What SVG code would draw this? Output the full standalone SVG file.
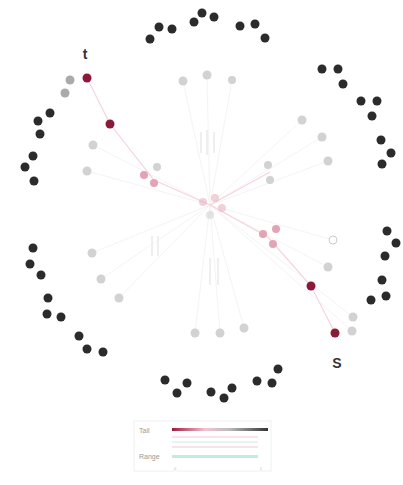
<svg xmlns="http://www.w3.org/2000/svg" width="403" height="485" viewBox="0 0 403 485">
<style>
.d{fill:#2b2b2b}
.g{fill:#d2d2d2}
.r{fill:#8b1a3a}
.p{fill:#e3a3b5}
.e{stroke:#f7d3de;stroke-width:1.2;fill:none}
.f{stroke:#f4f4f4;stroke-width:1;fill:none}
.lbl{font-family:"Liberation Sans",Arial,sans-serif}
</style>
<rect width="403" height="485" fill="#ffffff"/>
<g id="connectors">
<path class="f" d="M210 205L183 81M210 205L207 75M210 205L232 80M210 205L302 120M210 205L322 137M210 205L328 161M210 205L93 145M210 205L87 171M210 205L92 253M210 205L101 279M210 205L119 298M210 205L195 333M210 205L220 333M210 205L244 328M210 205L333 240M210 205L328 267M210 205L353 317M210 205L352 331"/>
<path stroke="#eaeaea" stroke-width="1.5" fill="none" d="M201 132L201 153M207 130L207 155M214 132L214 153M210 258L210 285M218 258L218 285M152 236L152 256M158 236L158 256"/>
<path class="e" d="M210 205L154 180L110 124L87 78M210 205L268 237L311 286L335 333M210 205L270 172"/>
</g>
<g id="center"><circle class="p" cx="203" cy="202" r="4" opacity="0.5"/><circle class="p" cx="215" cy="198" r="4" opacity="0.5"/><circle class="p" cx="222" cy="208" r="4" opacity="0.5"/><circle class="g" cx="210" cy="215" r="4" opacity="0.6"/></g>
<g id="red-nodes">
<circle class="r" cx="87" cy="78" r="4.5"/><circle class="r" cx="110" cy="124" r="4.5"/><circle class="r" cx="311" cy="286" r="4.5"/><circle class="r" cx="335" cy="333" r="4.5"/>
<circle class="p" cx="144" cy="175" r="4"/><circle class="p" cx="154" cy="183" r="4"/><circle class="g" cx="157" cy="167" r="4"/>
<circle class="p" cx="263" cy="234" r="4"/><circle class="p" cx="276" cy="229" r="4"/><circle class="p" cx="273" cy="244" r="4"/>
</g>
<g id="gray-nodes">
<circle fill="#aaa" cx="70" cy="80" r="4.5"/><circle fill="#aaa" cx="65" cy="93" r="4.5"/>
<circle class="g" cx="183" cy="81" r="4.5"/><circle class="g" cx="207" cy="75" r="4.5"/><circle class="g" cx="232" cy="80" r="4"/>
<circle class="g" cx="93" cy="145" r="4.5"/><circle class="g" cx="87" cy="171" r="4.5"/>
<circle class="g" cx="302" cy="120" r="4.5"/><circle class="g" cx="322" cy="137" r="4.5"/><circle class="g" cx="328" cy="161" r="4.5"/>
<circle class="g" cx="268" cy="165" r="4"/><circle class="g" cx="270" cy="180" r="4"/>
<circle class="g" cx="92" cy="253" r="4.5"/><circle class="g" cx="101" cy="279" r="4.5"/><circle class="g" cx="119" cy="298" r="4.5"/>
<circle class="g" cx="195" cy="333" r="4.5"/><circle class="g" cx="220" cy="333" r="4.5"/><circle class="g" cx="244" cy="328" r="4.5"/>
<circle cx="333" cy="240" r="4" fill="#fff" stroke="#ccc"/><circle class="g" cx="328" cy="267" r="4.5"/>
<circle class="g" cx="353" cy="317" r="4.5"/><circle class="g" cx="352" cy="331" r="4.5"/>
</g>
<g id="dark-nodes">
<circle class="d" cx="150" cy="39" r="4.5"/><circle class="d" cx="159" cy="27" r="4.5"/><circle class="d" cx="172" cy="29" r="4.5"/><circle class="d" cx="194" cy="22" r="4.5"/><circle class="d" cx="202" cy="13" r="4.5"/><circle class="d" cx="214" cy="17" r="4.5"/><circle class="d" cx="240" cy="26" r="4.5"/><circle class="d" cx="255" cy="24" r="4.5"/><circle class="d" cx="265" cy="38" r="4.5"/>
<circle class="d" cx="322" cy="69" r="4.5"/><circle class="d" cx="338" cy="69" r="4.5"/><circle class="d" cx="343" cy="84" r="4.5"/><circle class="d" cx="361" cy="101" r="4.5"/><circle class="d" cx="377" cy="101" r="4.5"/><circle class="d" cx="372" cy="116" r="4.5"/><circle class="d" cx="381" cy="140" r="4.5"/><circle class="d" cx="391" cy="153" r="4.5"/><circle class="d" cx="382" cy="164" r="4.5"/>
<circle class="d" cx="50" cy="113" r="4.5"/><circle class="d" cx="38" cy="121" r="4.5"/><circle class="d" cx="40" cy="134" r="4.5"/><circle class="d" cx="33" cy="156" r="4.5"/><circle class="d" cx="25" cy="167" r="4.5"/><circle class="d" cx="34" cy="181" r="4.5"/>
<circle class="d" cx="33" cy="248" r="4.5"/><circle class="d" cx="30" cy="264" r="4.5"/><circle class="d" cx="41" cy="275" r="4.5"/><circle class="d" cx="48" cy="298" r="4.5"/><circle class="d" cx="47" cy="314" r="4.5"/><circle class="d" cx="61" cy="317" r="4.5"/><circle class="d" cx="79" cy="336" r="4.5"/><circle class="d" cx="87" cy="349" r="4.5"/><circle class="d" cx="103" cy="352" r="4.5"/>
<circle class="d" cx="165" cy="380" r="4.5"/><circle class="d" cx="187" cy="383" r="4.5"/><circle class="d" cx="177" cy="393" r="4.5"/><circle class="d" cx="211" cy="392" r="4.5"/><circle class="d" cx="224" cy="398" r="4.5"/><circle class="d" cx="232" cy="388" r="4.5"/><circle class="d" cx="257" cy="381" r="4.5"/><circle class="d" cx="272" cy="383" r="4.5"/><circle class="d" cx="278" cy="369" r="4.5"/>
<circle class="d" cx="387" cy="231" r="4.5"/><circle class="d" cx="396" cy="243" r="4.5"/><circle class="d" cx="385" cy="256" r="4.5"/><circle class="d" cx="382" cy="280" r="4.5"/><circle class="d" cx="386" cy="296" r="4.5"/><circle class="d" cx="371" cy="300" r="4.5"/>
</g>
<g id="labels">
<text class="lbl" x="85" y="59" font-size="14" font-weight="bold" text-anchor="middle" fill="#333">t</text>
<text class="lbl" x="337" y="368" font-size="14" font-weight="bold" text-anchor="middle" fill="#333">S</text>
</g>
<g id="legend">
<defs><linearGradient id="tg" x1="0" x2="1"><stop offset="0" stop-color="#a3193f"/><stop offset="0.35" stop-color="#f3c3d1"/><stop offset="0.6" stop-color="#bbbbbb"/><stop offset="1" stop-color="#333"/></linearGradient></defs>
<rect x="134" y="421" width="137" height="50" fill="#fff" stroke="#f0f0f0"/>
<text class="lbl" x="139" y="433" font-size="7" fill="#999">Tail</text>
<text class="lbl" x="139" y="459" font-size="7" fill="#999">Range</text>
<rect x="172" y="428" width="96" height="3" fill="url(#tg)"/>
<rect x="172" y="436" width="86" height="2" fill="#fbe2e9"/>
<rect x="172" y="441" width="86" height="2" fill="#e3f6f0"/>
<rect x="172" y="446" width="86" height="2" fill="#fbe2e9"/>
<rect x="172" y="455" width="86" height="3" fill="#bfeede"/>
<text class="lbl" x="174" y="470" font-size="4" fill="#bbb">0</text>
<text class="lbl" x="262" y="470" font-size="4" fill="#bbb" text-anchor="end">1</text>
</g>
</svg>
